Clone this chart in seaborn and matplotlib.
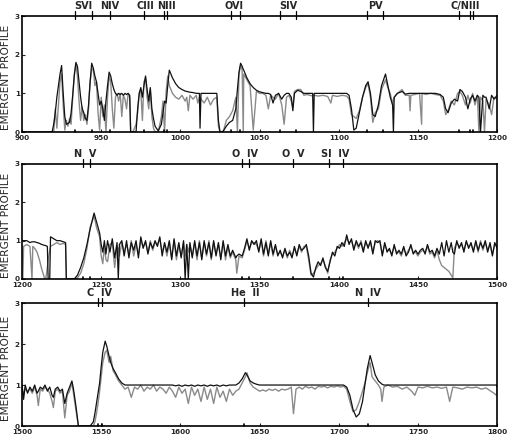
import numpy as np
import pandas as pd
import matplotlib
matplotlib.use("Agg")
import matplotlib.pyplot as plt
import seaborn as sns

# ---- panel 1: 900-1200 A ----
wave_a = [900, 919, 920, 921, 922, 923, 924, 925, 926, 927,
          928, 929, 930, 931, 932, 933, 934, 935, 936, 937,
          938, 939, 940, 941, 942, 943, 944, 945, 946, 947,
          948, 949, 950, 951, 952, 953, 954, 955, 956, 957,
          958, 959, 960, 961, 962, 963, 964, 965, 966, 967,
          968, 968.6, 970, 972, 973, 974, 975, 976, 977, 978,
          979, 980, 981, 982, 983, 984, 986, 988, 989, 990,
          991, 992, 993, 995, 997, 999, 1001, 1003, 1004, 1005,
          1006, 1008, 1010, 1011, 1012, 1012.4, 1013, 1015, 1017, 1019,
          1021, 1023, 1024, 1025, 1027, 1029, 1031, 1033, 1035, 1036,
          1037, 1038, 1039, 1039.7, 1040, 1042, 1044, 1046, 1048, 1050,
          1052, 1054, 1055.5, 1057, 1058.5, 1060, 1062, 1064, 1065.5, 1067,
          1068.5, 1070, 1071, 1072, 1074, 1076, 1078, 1080, 1083.5, 1084,
          1084.5, 1087, 1090, 1093, 1095, 1096, 1099, 1102, 1105, 1106.5,
          1108, 1109.5, 1111, 1113, 1115, 1117, 1118.5, 1120, 1121.5, 1123,
          1125, 1127, 1129.5, 1131, 1132.5, 1134, 1134.5, 1135, 1137, 1140,
          1142, 1144.5, 1145, 1145.5, 1148, 1151, 1152.3, 1152.6, 1155, 1158,
          1161, 1164, 1166, 1167.5, 1169, 1171, 1173, 1175, 1176.5, 1178,
          1180, 1181.5, 1183, 1184.5, 1186, 1187.5, 1188.5, 1189.5, 1191, 1192,
          1193, 1195, 1196.5, 1198, 1200]
model_a = [0, 0, 0.2, 0.5, 0.9, 1.2, 1.5, 1.72, 1.0, 0.4,
           0.2, 0.22, 0.25, 0.5, 0.95, 1.45, 1.8, 1.7, 1.3, 0.9,
           0.6, 0.5, 0.35, 0.3, 0.7, 1.3, 1.78, 1.65, 1.45, 1.3,
           1.0, 0.7, 0.8, 0.6, 0.3, 0.8, 1.2, 1.55, 1.45, 1.25,
           1.1, 1.0, 0.95, 1.0, 0.97, 1.0, 0.95, 1.0, 0.97, 1.0,
           0.95, 0.0, 0.0, 0.0, 0.6, 1.0, 1.15, 0.9, 1.2, 1.45,
           1.1, 0.8, 1.15, 0.6, 0.35, 0.15, 0.03, 0.2, 0.5, 0.8,
           0.75, 1.2, 1.6, 1.4, 1.25, 1.15, 1.1, 1.06, 1.05, 1.04,
           1.03, 1.02, 1.0, 1.0, 1.0, 0.1, 1.0, 1.0, 1.0, 1.0,
           1.0, 1.0, 0.3, 0.0, 0.02, 0.15, 0.25, 0.3, 0.6, 1.1,
           1.55, 1.78, 1.7, 1.62, 1.6, 1.4, 1.25, 1.15, 1.08, 1.04,
           1.02, 1.0, 1.0, 0.97, 0.75, 0.95, 1.0, 0.85, 0.95, 1.0,
           1.0, 0.9, 0.55, 1.0, 1.08, 1.05, 1.0, 1.0, 1.0, 0.0,
           1.0, 1.0, 1.0, 1.0, 1.0, 1.0, 1.0, 1.0, 1.0, 0.95,
           0.6, 0.05, 0.1, 0.5, 0.9, 1.2, 1.3, 1.0, 0.45, 0.4,
           0.7, 1.2, 1.5, 1.2, 0.9, 0.7, 0.0, 0.9, 1.0, 1.05,
           0.98, 1.0, 1.0, 1.0, 1.0, 1.0, 1.0, 1.0, 1.0, 1.0,
           1.0, 0.97, 0.9, 0.6, 0.5, 0.75, 0.85, 0.8, 1.1, 1.05,
           0.9, 0.6, 0.85, 0.95, 0.8, 0.95, 0.9, 0.0, 0.95, 0.9,
           0.9, 0.6, 0.95, 0.85, 0.95]
obs_a = [0, 0, 0.0, 0.6, 0.1, 0.7, 1.3, 1.5, 0.7, 0.05,
         0.3, 0.15, 0.35, 0.2, 0.9, 1.5, 1.75, 1.45, 0.8, 0.3,
         0.65, 0.3, 0.45, 0.2, 0.6, 1.3, 1.6, 1.65, 1.2, 1.3,
         0.5, 0.05, 0.9, 0.4, 0.7, 0.0, 0.9, 1.45, 1.3, 0.6,
         0.1, 0.9, 1.0, 0.8, 1.0, 0.4, 0.95, 0.85, 0.6, 1.0,
         0.9, 0.0, 0.0, 0.2, 0.5, 1.0, 1.1, 0.3, 1.3, 1.4,
         0.9, 0.6, 1.1, 0.4, 0.1, 0.0, 0.0, 0.4, 0.8, 0.0,
         1.05, 1.45, 1.2, 1.0, 0.9, 0.85, 0.95, 0.8, 0.9, 0.55,
         0.95, 0.85, 0.95, 0.75, 0.9, 0.9, 0.85, 0.75, 0.9, 0.7,
         0.85, 0.9, 0.15, 0.0, 0.0, 0.3, 0.4, 0.55, 0.9, 0.0,
         1.5, 1.72, 1.6, 0.0, 1.5, 1.35, 1.2, 0.05, 1.05, 1.0,
         1.0, 0.95, 0.6, 0.95, 0.9, 0.85, 1.0, 0.7, 0.2, 0.9,
         0.95, 0.8, 0.65, 1.05, 1.1, 1.1, 0.95, 0.97, 0.93, 0.95,
         0.95, 0.93, 0.95, 0.92, 0.75, 0.95, 0.92, 0.95, 0.93, 0.85,
         0.45, 0.4, 0.35, 0.55, 0.9, 1.15, 1.25, 0.9, 0.25, 0.5,
         0.6, 1.1, 1.35, 1.15, 1.0, 0.7, 0.85, 0.9, 1.0, 1.1,
         0.95, 0.95, 0.55, 0.95, 0.97, 1.0, 0.2, 1.0, 0.97, 1.0,
         0.97, 0.95, 0.8, 0.45, 0.55, 0.8, 0.7, 1.0, 1.05, 0.95,
         0.7, 0.95, 0.75, 1.0, 0.7, 0.95, 0.0, 0.9, 0.8, 0.0,
         0.85, 0.7, 0.45, 0.9, 0.85]

# ---- panel 2: 1200-1500 A ----
wave_b = [1200, 1200.5, 1201, 1203, 1205, 1206.3, 1206.8, 1208, 1209.5, 1211,
          1212.5, 1214, 1215, 1216, 1216.5, 1217.5, 1218, 1220, 1222, 1224,
          1226, 1227.5, 1228, 1233, 1235, 1237, 1239, 1241, 1243, 1245.5,
          1247, 1249, 1250, 1251, 1252, 1253, 1254, 1255.5, 1257, 1258.5,
          1260, 1260.8, 1261.5, 1263, 1264.5, 1266, 1267.5, 1269, 1270.5, 1272,
          1273.5, 1275, 1276.5, 1278, 1279.5, 1281, 1282.5, 1284, 1285.5, 1287,
          1288.5, 1290, 1291.5, 1293, 1294.5, 1296, 1297.5, 1299, 1300.5, 1302,
          1303, 1304, 1305, 1306, 1307.5, 1309, 1310.5, 1312, 1313.5, 1315,
          1316.5, 1318, 1319.5, 1321, 1322.5, 1324, 1325.5, 1327, 1328.5, 1330,
          1331.5, 1333, 1335, 1335.6, 1337, 1339, 1340.5, 1342, 1343.5, 1345,
          1346.5, 1348, 1349.5, 1351, 1352.5, 1354, 1355.5, 1357, 1358.5, 1360,
          1361.5, 1363, 1364.5, 1366, 1367.5, 1369, 1370.5, 1372, 1373.5, 1375,
          1376.5, 1378, 1379.5, 1381, 1382.5, 1384, 1385.5, 1387, 1388.5, 1390,
          1391.5, 1393, 1394.5, 1396, 1397.5, 1399, 1400.5, 1402, 1403.5, 1405,
          1406.5, 1408, 1409.5, 1411, 1412.5, 1414, 1415.5, 1417, 1418.5, 1420,
          1421.5, 1423, 1424.5, 1426, 1427.5, 1429, 1430.5, 1432, 1433.5, 1435,
          1436.5, 1438, 1439.5, 1441, 1442.5, 1444, 1445.5, 1447, 1448.5, 1450,
          1451.5, 1453, 1454.5, 1456, 1457.5, 1459, 1460.5, 1462, 1463.5, 1465,
          1466.5, 1468, 1469.5, 1471, 1472, 1473, 1474.5, 1476, 1477.5, 1479,
          1480.5, 1482, 1483.5, 1485, 1486.5, 1488, 1489.5, 1491, 1492.5, 1494,
          1495.5, 1497, 1498.5, 1500]
model_b = [1.0, 1.0, 1.0, 1.0, 0.95, 0.97, 0.97, 0.97, 0.95, 0.93,
           0.9, 0.88, 0.87, 0.85, 0.0, 0.0, 1.1, 1.05, 1.0, 1.0,
           0.97, 0.95, 0.0, 0.0, 0.1, 0.3, 0.55, 0.9, 1.3, 1.72,
           1.5, 1.2, 0.9, 0.7, 1.0, 0.65, 1.0, 0.7, 1.05, 0.55,
           0.95, 0.0, 0.9, 1.0, 0.6, 1.0, 0.55, 0.95, 0.75, 1.0,
           0.55, 1.1, 0.8, 1.0, 0.65, 0.95, 0.8, 1.0, 0.85, 1.1,
           0.6, 0.95, 0.7, 1.0, 0.5, 1.05, 0.6, 0.95, 0.55, 1.0,
           0.0, 0.9, 0.0, 0.95, 0.55, 1.0, 0.6, 0.95, 0.5, 1.0,
           0.65, 0.95, 0.55, 1.0, 0.6, 0.95, 0.5, 1.0, 0.6, 0.9,
           0.6, 0.75, 0.55, 0.6, 0.65, 0.6, 0.8, 1.05, 0.75, 1.0,
           0.9, 1.0, 0.7, 1.05, 0.65, 0.95, 0.6, 1.0, 0.65, 0.9,
           0.6, 0.75, 0.55, 0.8, 0.6, 0.7, 0.55, 0.85, 0.6, 0.9,
           0.75, 0.8, 0.9, 0.6, 0.15, 0.05, 0.3, 0.45, 0.35, 0.55,
           0.3, 0.2, 0.45, 0.7, 0.6, 0.85, 0.8, 0.95, 0.85, 1.15,
           0.9, 1.05, 0.75, 1.0, 0.85, 0.95, 0.7, 1.0, 0.8, 1.0,
           0.65, 1.0, 0.95, 1.0, 0.6, 0.95, 0.7, 0.8, 0.6, 0.9,
           0.65, 0.75, 0.65, 0.85, 0.6, 0.7, 0.9, 0.65, 0.75, 0.65,
           0.75, 0.8, 0.65, 0.9, 0.7, 0.75, 0.6, 0.8, 0.65, 0.95,
           0.6, 1.0, 0.7, 0.95, 0.7, 0.65, 1.0, 0.8, 0.95, 0.7,
           1.0, 0.8, 0.95, 0.7, 1.0, 0.75, 0.95, 0.8, 1.0, 0.7,
           0.95, 0.6, 0.95, 0.8]
obs_b = [0.9, 0.0, 0.85, 0.9, 0.85, 0.0, 0.85, 0.8, 0.7, 0.5,
         0.25, 0.05, 0.0, 0.3, 0.5, 0.75, 0.85, 0.9, 0.95, 0.9,
         0.93, 0.9, 0.0, 0.0, 0.03, 0.15, 0.4, 0.8, 1.35, 1.65,
         1.35, 1.1, 0.6, 0.4, 0.85, 0.5, 0.45, 0.9, 0.95, 0.3,
         0.85, 0.8, 0.6, 0.95, 0.7, 0.9, 0.65, 1.0, 0.6, 0.9,
         0.65, 1.0, 0.85, 0.95, 0.7, 1.0, 0.75, 0.95, 0.9, 1.05,
         0.7, 0.9, 0.6, 0.95, 0.55, 1.0, 0.5, 0.9, 0.6, 0.95,
         0.6, 0.9, 0.7, 0.9, 0.6, 0.95, 0.5, 1.0, 0.55, 0.95,
         0.6, 1.0, 0.5, 0.95, 0.65, 0.9, 0.55, 0.95, 0.5, 0.85,
         0.55, 0.7, 0.5, 0.15, 0.6, 0.55, 0.75, 1.0, 0.8, 0.95,
         0.95, 0.9, 0.75, 1.0, 0.6, 1.0, 0.65, 0.95, 0.6, 0.85,
         0.65, 0.7, 0.6, 0.75, 0.55, 0.75, 0.6, 0.8, 0.65, 0.85,
         0.7, 0.85, 0.85, 0.5, 0.1, 0.15, 0.25, 0.35, 0.4, 0.5,
         0.35, 0.15, 0.5, 0.65, 0.7, 0.8, 0.9, 0.85, 0.95, 1.05,
         0.95, 1.0, 0.8, 0.95, 0.8, 1.0, 0.75, 0.95, 0.85, 0.95,
         0.7, 0.95, 1.0, 0.95, 0.65, 0.9, 0.75, 0.75, 0.65, 0.85,
         0.7, 0.7, 0.6, 0.8, 0.65, 0.75, 0.85, 0.7, 0.7, 0.6,
         0.7, 0.75, 0.7, 0.85, 0.65, 0.7, 0.55, 0.75, 0.5, 0.35,
         0.3, 0.25, 0.2, 0.1, 0.03, 0.8, 0.95, 0.85, 0.9, 0.75,
         0.95, 0.85, 0.9, 0.75, 0.95, 0.7, 1.0, 0.75, 0.95, 0.75,
         0.9, 0.65, 0.9, 0.85]

# ---- panel 3: 1500-1800 A ----
wave_c = [1500, 1501, 1502, 1503.5, 1505, 1506.5, 1508, 1509.5, 1510.3, 1511.5,
          1513, 1514.5, 1516, 1517.5, 1519, 1519.8, 1521, 1522.5, 1524, 1525.5,
          1527, 1528.5, 1530, 1531.5, 1532.5, 1534, 1535.6, 1537, 1540, 1543,
          1545, 1546, 1547, 1548, 1549, 1550, 1551, 1552.5, 1553.5, 1555,
          1556, 1557.5, 1559, 1561, 1563, 1565, 1567, 1569, 1571, 1573,
          1575, 1577, 1579, 1581, 1583, 1585, 1587, 1589, 1591, 1593,
          1595, 1597, 1599, 1601, 1603, 1605, 1607, 1609, 1611, 1613,
          1615, 1617, 1619, 1621, 1623, 1625, 1627, 1629, 1631, 1633,
          1635, 1637, 1639, 1641, 1642, 1644, 1646, 1648, 1650, 1652,
          1654, 1656, 1658, 1660, 1662, 1664, 1666, 1668, 1670, 1671.4,
          1673, 1675, 1677, 1679, 1681, 1683, 1685, 1687, 1689, 1691,
          1693, 1695, 1697, 1699, 1701, 1703, 1705, 1707, 1709, 1711,
          1713, 1715, 1716.5, 1718, 1719.8, 1721, 1723, 1725, 1726.5, 1727.3,
          1728.5, 1731, 1734, 1737, 1740, 1743, 1746, 1748, 1750, 1753,
          1756, 1759, 1762, 1765, 1768, 1770, 1772, 1775, 1778, 1781,
          1784, 1787, 1790, 1793, 1796, 1798, 1799.5, 1800]
model_c = [1.0, 0.65, 1.0, 0.8, 0.95, 0.85, 1.0, 0.8, 0.85, 0.95,
           0.9, 1.0, 0.85, 0.95, 0.75, 0.7, 0.9, 0.95, 0.85, 0.9,
           0.55, 0.8, 0.95, 1.1, 0.9, 0.5, 0.0, 0.0, 0.0, 0.0,
           0.1, 0.3, 0.55, 0.8, 1.05, 1.45, 1.8, 2.07, 1.95, 1.7,
           1.55, 1.4, 1.3, 1.15, 1.05, 1.0, 1.0, 1.0, 1.0, 1.0,
           1.0, 1.0, 1.0, 1.0, 1.0, 1.0, 1.0, 1.0, 1.0, 1.0,
           1.0, 0.98, 1.0, 0.97, 1.0, 0.98, 1.0, 0.97, 1.0, 0.98,
           1.0, 0.97, 1.0, 0.98, 1.0, 0.97, 1.0, 0.98, 1.0, 1.0,
           1.0, 1.05, 1.15, 1.3, 1.25, 1.1, 1.05, 1.02, 1.0, 1.0,
           1.0, 1.0, 1.0, 1.0, 1.0, 1.0, 1.0, 1.0, 1.0, 1.0,
           1.0, 1.0, 1.0, 1.0, 1.0, 1.0, 1.0, 1.0, 1.0, 1.0,
           1.0, 1.0, 1.0, 1.0, 1.0, 1.0, 0.95, 0.75, 0.4, 0.22,
           0.3, 0.6, 1.0, 1.4, 1.72, 1.55, 1.25, 1.1, 1.05, 1.02,
           1.0, 1.0, 1.0, 1.0, 1.0, 1.0, 1.0, 1.0, 1.0, 1.0,
           1.0, 1.0, 1.0, 1.0, 1.0, 1.0, 1.0, 1.0, 1.0, 1.0,
           1.0, 1.0, 1.0, 1.0, 1.0, 1.0, 1.0, 0.95]
obs_c = [0.95, 0.75, 0.9, 0.85, 0.9, 0.8, 0.95, 0.75, 0.5, 0.9,
         0.85, 0.95, 0.9, 0.8, 0.6, 0.45, 0.85, 0.9, 0.8, 0.85,
         0.2, 0.75, 0.85, 1.05, 0.8, 0.4, 0.0, 0.0, 0.0, 0.0,
         0.0, 0.1, 0.3, 0.55, 0.85, 1.2, 1.55, 1.8, 1.85, 1.55,
         1.7, 1.35, 1.25, 1.1, 1.0, 0.9, 0.95, 0.7, 0.95, 0.9,
         1.0, 0.85, 0.95, 0.9, 1.0, 0.85, 0.95, 0.9, 0.8, 0.95,
         0.85, 0.7, 0.95, 0.8, 0.9, 0.55, 0.95, 0.75, 0.9, 0.6,
         0.95, 0.65, 0.9, 0.55, 0.95, 0.7, 0.85, 0.6, 0.9, 0.75,
         0.85, 0.9, 1.05, 1.2, 1.3, 1.05, 0.95, 0.9, 0.85, 0.88,
         0.85, 0.9, 0.87, 0.9, 0.85, 0.9, 0.88, 0.9, 0.95, 0.3,
         0.9, 0.95, 0.9, 0.97, 0.93, 0.95, 0.9, 0.97, 0.95, 0.97,
         0.93, 0.97, 0.95, 0.98, 0.95, 0.97, 0.9, 0.6, 0.35, 0.4,
         0.6, 0.85, 1.05, 1.3, 1.55, 1.2, 1.1, 1.0, 0.9, 0.6,
         0.95, 1.0, 0.95, 0.97, 0.9, 0.95, 0.85, 0.75, 0.95, 0.93,
         0.97, 0.93, 0.95, 0.92, 0.95, 0.6, 0.95, 0.93, 0.9, 0.95,
         0.93, 0.95, 0.9, 0.93, 0.85, 0.8, 0.75, 0.9]

# ion labels: (text, label centre, line positions)
ions_a = [("SVI", 939, [933.4, 944.5]), ("NIV", 955.5, [955.3]),
          ("CIII", 978, [977.0]), ("NIII", 991, [989.8, 991.5]),
          ("OVI", 1034, [1031.9, 1037.6]), ("SIV", 1068, [1062.7, 1073.0]),
          ("PV", 1123, [1118.0, 1128.0]), ("C/NIII", 1180, [1175.7, 1183.0, 1184.5])]
ions_b = [("N  V", 1240, [1238.8, 1242.8]), ("O  IV", 1341, [1338.6, 1343.5]),
          ("O  V", 1371, [1371.0]), ("SI  IV", 1398, [1393.8, 1402.8])]
ions_c = [("C  IV", 1549, [1548.2, 1550.8]), ("He  II", 1641, [1640.4]),
          ("N  IV", 1718.5, [1718.5])]

sns.set_style("ticks")
plt.rcParams['font.family'] = ['DejaVu Sans']

fig = plt.figure(figsize=(5.12, 4.36), dpi=100)
boxes = [[0.043, 0.6972, 0.928, 0.266],
         [0.043, 0.3601, 0.928, 0.2638],
         [0.043, 0.0229, 0.928, 0.282]]
panels = [(wave_a, model_a, obs_a, ions_a, 900),
          (wave_b, model_b, obs_b, ions_b, 1200),
          (wave_c, model_c, obs_c, ions_c, 1500)]

for box, (wave, model, obs, ions, start) in zip(boxes, panels):
    ax = fig.add_axes(box)
    df = pd.DataFrame({"wave": wave, "model": model, "obs": obs})
    sns.lineplot(data=df, x="wave", y="obs", ax=ax, color="#8a8a8a",
                 lw=1.0, estimator=None)
    sns.lineplot(data=df, x="wave", y="model", ax=ax, color="#111111",
                 lw=0.9, estimator=None)
    ax.set_xlim(start, start + 300)
    ax.set_ylim(0, 3)
    ax.set_xticks(np.arange(start, start + 301, 50))
    ax.set_yticks([0, 1, 2, 3])
    ax.tick_params(axis="both", labelsize=5.2, length=2.5, width=0.8,
                   direction="in", pad=2)
    ax.tick_params(axis="y", pad=1.5)
    for lab in ax.get_xticklabels() + ax.get_yticklabels():
        lab.set_fontweight("bold")
    ax.set_xlabel("")
    ax.set_ylabel("EMERGENT PROFILE", fontsize=7.6)
    ax.yaxis.set_label_coords(-0.024, 0.47)
    for sp in ax.spines.values():
        sp.set_linewidth(1.2)
        sp.set_color("black")

    trans = ax.get_xaxis_transform()
    for name, cx, lines in ions:
        ax.text(cx, 1.045, name, transform=trans, ha="center", va="bottom",
                fontsize=7, fontweight="bold")
        for w in lines:
            ax.plot([w, w], [0.975, 1.045], transform=trans, color="black",
                    lw=0.9, clip_on=False)
            ax.plot([w, w], [0.0, 0.02], transform=trans, color="black",
                    lw=1.2, clip_on=False)

fig.savefig("out.png", dpi=100)
